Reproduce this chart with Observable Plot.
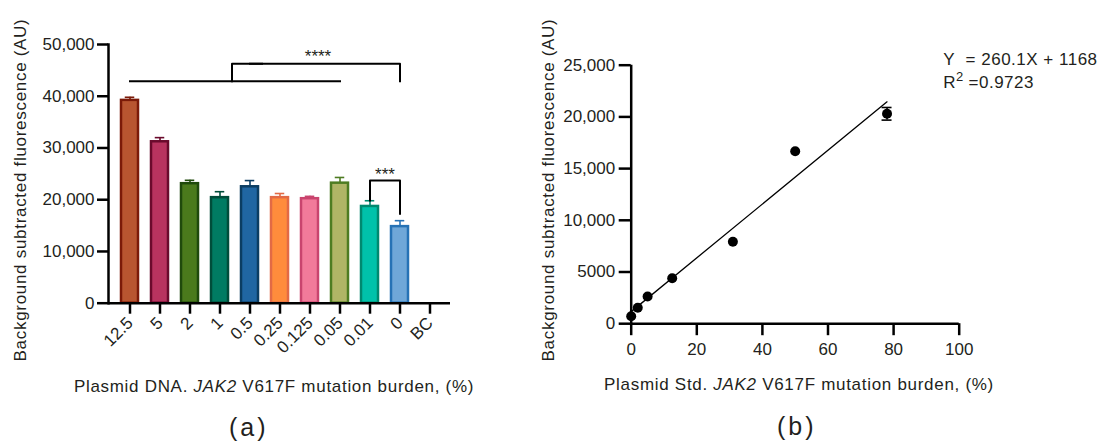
<!DOCTYPE html>
<html><head><meta charset="utf-8">
<script src="https://cdn.jsdelivr.net/npm/d3@7"></script>
<script src="https://cdn.jsdelivr.net/npm/@observablehq/plot@0.6"></script>
<style>
body{margin:0;background:#fff;}
#fig{position:relative;width:1104px;height:444px;overflow:hidden;background:#fff;font-family:'Liberation Sans',Arial,sans-serif;color:#231f20;}
#fig svg{position:absolute;top:0;}
.lbl{position:absolute;white-space:nowrap;font-size:17px;line-height:1;letter-spacing:0.7px;}
.ctr{transform:translate(-50%,-50%);}
.rot{transform:translate(-50%,-50%) rotate(-90deg);}
.panel{position:absolute;white-space:nowrap;font-size:25px;line-height:1;letter-spacing:3px;transform:translateY(-50%);}
.eq{position:absolute;white-space:nowrap;font-size:17px;line-height:1;letter-spacing:0.5px;}
.eq sup{font-size:13px;vertical-align:0;position:relative;top:-7px;letter-spacing:0;}
</style></head><body><div id="fig"></div>
<script>
// ---------- Panel (a) data ----------
const categories = ["12.5","5","2","1","0.5","0.25","0.125","0.05","0.01","0","BC"];
const meanSignal = [39200,31200,23100,20400,22500,20400,20200,23200,18700,14800,null];
const sdSignal   = [600,800,650,1150,1200,800,450,1100,1100,1150,null];
const barFills   = ["#b85530","#b8335f","#4a7a1c","#007b62","#2066a2","#ff8c3c","#f27a9a","#b0b566","#00c2aa","#6fa7d8","#ffffff"];
const barStrokes = ["#7b1a08","#6a0a2c","#1f4a0c","#004d3a","#0b3d62","#e26a45","#c9446e","#4e7c22","#00896f","#2672b5","#ffffff"];
const yTicksA = [0,10000,20000,30000,40000,50000];
// significance brackets (category, level)
const bracketLong  = [{cat:"12.5",v:42900},{cat:"0.05",v:42900}];
const bracketStub  = [{cat:"1",v:42900},{cat:"1",v:46300},{cat:"0.5",v:46300}];
const bracketTop   = [{cat:"0.5",v:46300},{cat:"0",v:46300},{cat:"0",v:42900}];
const bracketSmall = [{cat:"0.01",v:19850},{cat:"0.01",v:23700},{cat:"0",v:23700},{cat:"0",v:17300}];
const sigBig   = [{cat:"0.125",v:46700,text:"****"}];
const sigSmall = [{cat:"0.01",v:23900,text:"***"}];

// ---------- Panel (b) data ----------
const stdBurden = [0,2,5,12.5,31,50,78];
const stdSignal = [725,1540,2630,4400,7920,16680,20300];
const stdSd     = [0,0,0,0,0,0,610];
const fitSlope = 260.1, fitIntercept = 1168;
const fitRange = [0,78];
const yTicksB = [0,5000,10000,15000,20000,25000];
const xTicksB = [0,20,40,60,80,100];

const FONT = "'Liberation Sans', Arial, sans-serif";
const TXT = "#231f20";
const comma = d3.format(",");

const bars = categories.map((c,i) => ({cat:c, value:meanSignal[i], err:sdSignal[i], fill:barFills[i], stroke:barStrokes[i]}));
const errBars = bars.filter(d => d.value != null && d.err != null);

const plotA = Plot.plot({
  width: 552, height: 370,
  marginLeft: 108, marginRight: 102, marginTop: 44, marginBottom: 67.3,
  style: {fontFamily: FONT, fontSize: "17px", color: TXT, background: "none", overflow: "visible"},
  x: {type: "band", domain: categories, paddingInner: 0.45, paddingOuter: 0.41},
  y: {domain: [0, 50000]},
  color: {type: "identity"},
  marks: [
    Plot.barY(bars.filter(d => d.value != null), {x: "cat", y: "value", fill: "fill", stroke: "stroke", strokeWidth: 2.5}),
    Plot.ruleX(errBars, {x: "cat", y1: "value", y2: d => d.value + d.err, stroke: "stroke", strokeWidth: 1.6}),
    Plot.tickY(errBars, {x: "cat", y: d => d.value + d.err, stroke: "stroke", strokeWidth: 1.6, insetLeft: 3.75, insetRight: 3.75}),
    Plot.ruleY([0], {stroke: "#000", strokeWidth: 2.5}),
    Plot.frame({anchor: "left", stroke: "#000", strokeWidth: 2.5}),
    Plot.axisY({ticks: yTicksA, tickFormat: comma, tickSize: 11, tickPadding: 3, strokeWidth: 2.5, stroke: "#000", fill: TXT, fontSize: 17, label: null}),
    Plot.axisX({tickSize: 11, tickPadding: 6, tickRotate: -45, strokeWidth: 2.5, stroke: "#000", fill: TXT, fontSize: 17, label: null}),
    Plot.line(bracketLong, {x: "cat", y: "v", stroke: "#000", strokeWidth: 2, strokeLinecap: "square"}),
    Plot.line(bracketStub, {x: "cat", y: "v", dx: 12, stroke: "#000", strokeWidth: 2, strokeLinecap: "square"}),
    Plot.line(bracketTop, {x: "cat", y: "v", stroke: "#000", strokeWidth: 2, strokeLinecap: "square"}),
    Plot.line(bracketSmall, {x: "cat", y: "v", stroke: "#000", strokeWidth: 2, strokeLinecap: "square"}),
    Plot.text(sigBig, {x: "cat", y: "v", text: "text", dx: 8, lineAnchor: "bottom", fontSize: 17, fill: TXT}),
    Plot.text(sigSmall, {x: "cat", y: "v", text: "text", dx: 15, lineAnchor: "bottom", fontSize: 17, fill: TXT})
  ]
});
plotA.style.left = "0px";

const std = stdBurden.map((x,i) => ({x, y: stdSignal[i], sd: stdSd[i]}));
const stdErr = std.filter(d => d.sd > 0);
const fit = fitRange.map(x => ({x, y: fitSlope * x + fitIntercept}));
const fmtB = d => d < 10000 ? String(d) : comma(d);

const plotB = Plot.plot({
  width: 552, height: 370,
  marginLeft: 78.7, marginRight: 145.3, marginTop: 64.7, marginBottom: 46.8,
  style: {fontFamily: FONT, fontSize: "17px", color: TXT, background: "none", overflow: "visible"},
  x: {domain: [0, 100]},
  y: {domain: [0, 25000]},
  marks: [
    Plot.ruleY([0], {stroke: "#000", strokeWidth: 2.5}),
    Plot.ruleX([0], {stroke: "#000", strokeWidth: 2.5}),
    Plot.axisY({ticks: yTicksB, tickFormat: fmtB, tickSize: 12, tickPadding: 4, strokeWidth: 2.5, stroke: "#000", fill: TXT, fontSize: 17, label: null}),
    Plot.axisX({ticks: xTicksB, tickSize: 12, tickPadding: 7, strokeWidth: 2.5, stroke: "#000", fill: TXT, fontSize: 17, label: null}),
    Plot.line(fit, {x: "x", y: "y", stroke: "#000", strokeWidth: 1.3}),
    Plot.ruleX(stdErr, {x: "x", y1: d => d.y - d.sd, y2: d => d.y + d.sd, stroke: "#000", strokeWidth: 1.6}),
    Plot.ruleY(stdErr, {y: d => d.y + d.sd, x1: "x", x2: "x", insetLeft: -5, insetRight: -5, stroke: "#000", strokeWidth: 1.6}),
    Plot.ruleY(stdErr, {y: d => d.y - d.sd, x1: "x", x2: "x", insetLeft: -5, insetRight: -5, stroke: "#000", strokeWidth: 1.6}),
    Plot.dot(std, {x: "x", y: "y", r: 5, fill: "#000", stroke: "none"})
  ]
});
plotB.style.left = "552px";

const fig = document.getElementById("fig");
fig.appendChild(plotA);
fig.appendChild(plotB);

function addLabel(html, cls, left, top) {
  const d = document.createElement("div");
  d.className = cls;
  d.innerHTML = html;
  d.style.left = left + "px";
  d.style.top = top + "px";
  fig.appendChild(d);
  return d;
}
addLabel("Background subtracted fluorescence (AU)", "lbl rot", 19.5, 190);
addLabel("Plasmid DNA. <i>JAK2</i> V617F mutation burden, (%)", "lbl ctr", 274, 385.5);
addLabel("(a)", "panel", 229, 427);
addLabel("Background subtracted fluorescence (AU)", "lbl rot", 548, 190);
addLabel("Plasmid Std. <i>JAK2</i> V617F mutation burden, (%)", "lbl ctr", 799, 384);
addLabel("(b)", "panel", 777, 426);
addLabel("Y&nbsp;&nbsp;= 260.1X + 1168", "eq", 943.3, 50.6);
addLabel("R<sup>2</sup> =0.9723", "eq", 943.3, 73.8);
</script></body></html>
